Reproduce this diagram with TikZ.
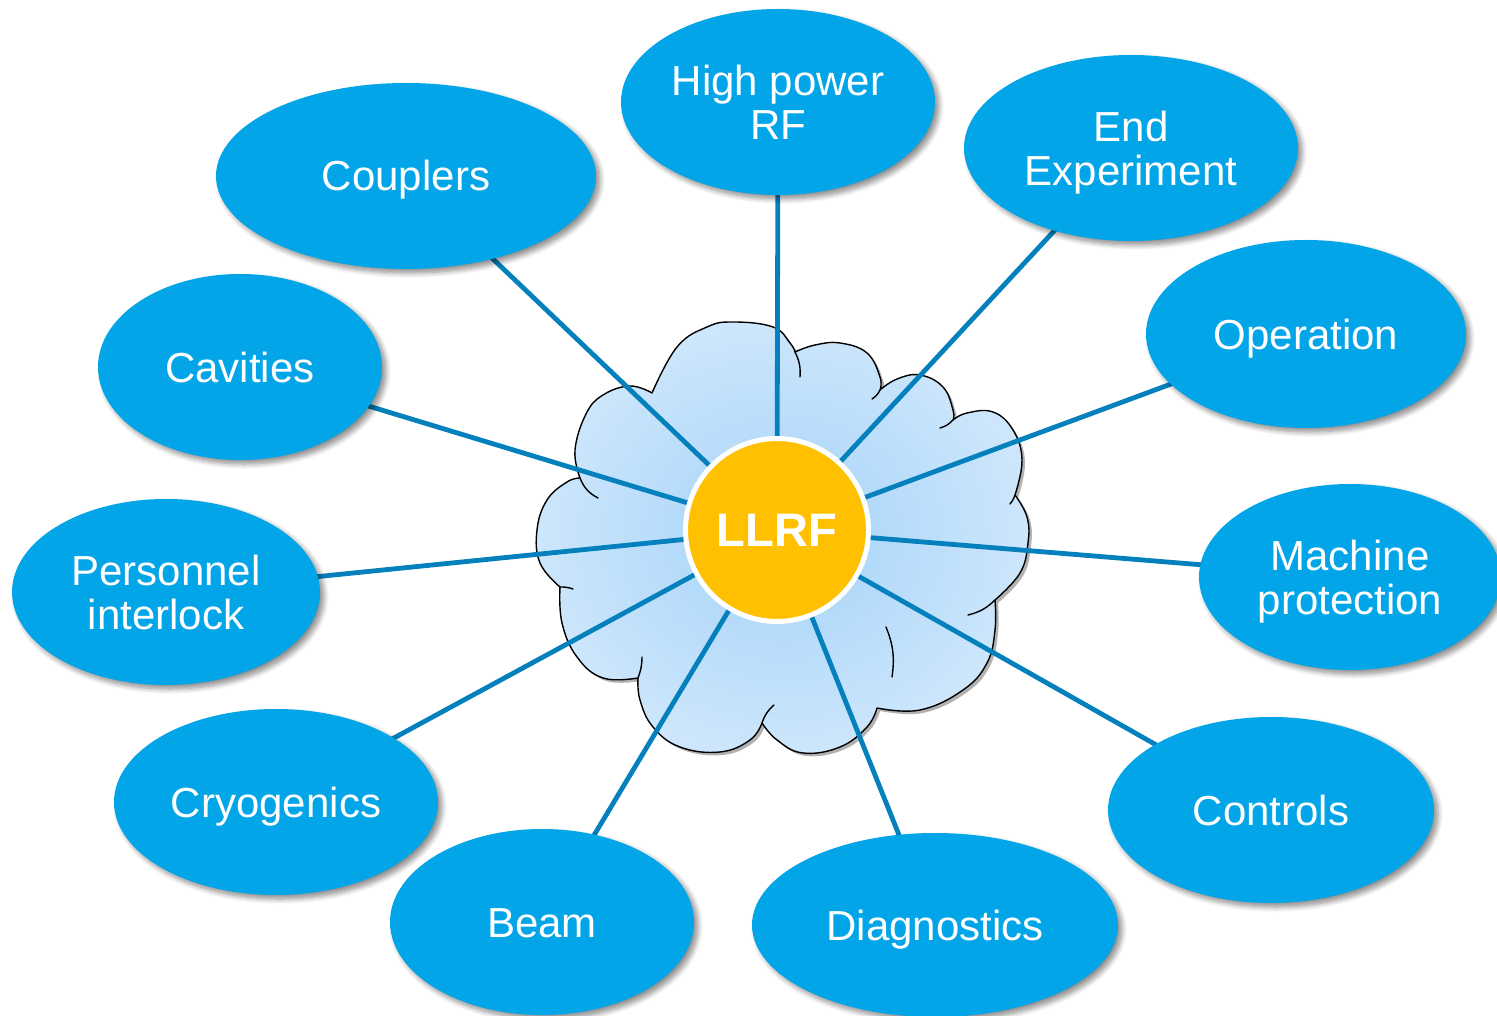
\documentclass[tikz,border=0pt]{standalone}
\usepackage{fontspec}
\setmainfont{Liberation Sans}
\usetikzlibrary{shapes.geometric,shadows,shadows.blur}

\definecolor{topic}{RGB}{3,165,233}
\definecolor{spoke}{RGB}{4,128,188}
\definecolor{hub}{RGB}{255,192,0}
\definecolor{cloudin}{RGB}{164,211,250}
\definecolor{cloudout}{RGB}{205,230,251}

\pgfdeclarelayer{bg}
\pgfdeclarelayer{spokes}
\pgfsetlayers{bg,spokes,main}

\tikzset{
  topicnode/.style={ellipse, fill=topic, text=white, inner sep=0pt, outer sep=0pt,
    align=center, font=\fontsize{42}{44}\selectfont, text depth=0pt,
    blur shadow={shadow xshift=4pt, shadow yshift=-4pt, shadow blur radius=5pt,
      shadow blur steps=8, shadow opacity=45}},
  oneline/.style={text height=30pt, text depth=0pt},
  spokeline/.style={draw=spoke, line width=4.8pt},
  cloudshape/.style={draw=black, line width=1.4pt, line join=round,
    inner color=cloudin, outer color=cloudout,
    drop shadow={shadow xshift=3pt, shadow yshift=-3pt, opacity=0.3, fill=black}},
  cloudfold/.style={draw=black, line width=1.4pt, line cap=round},
}

\begin{document}
\begin{tikzpicture}[x=1pt, y=-1pt]
\useasboundingbox (0,0) rectangle (1497,1016);

% central hub
\node[circle, fill=hub, draw=white, line width=5pt, minimum size=183pt,
  text=white, font=\fontsize{47}{50}\bfseries\selectfont] (llrf) at (777,530) {LLRF};

% surrounding topics
\node[topicnode, oneline, minimum width=380pt, minimum height=186pt] (coup) at (406,176) {Couplers};
\node[topicnode, minimum width=314pt, minimum height=186pt] (hprf) at (778,102) {High power\\RF};
\node[topicnode, minimum width=334pt, minimum height=186pt] (endx) at (1131,148) {End\\Experiment};
\node[topicnode, oneline, minimum width=320pt, minimum height=188pt] (oper) at (1306,334) {Operation};
\node[topicnode, minimum width=302pt, minimum height=186pt] (mach) at (1350,577) {Machine\\protection};
\node[topicnode, oneline, minimum width=326pt, minimum height=186pt] (ctrl) at (1271,810) {Controls};
\node[topicnode, oneline, minimum width=366pt, minimum height=184pt] (diag) at (935,925) {Diagnostics};
\node[topicnode, oneline, minimum width=304pt, minimum height=186pt] (beam) at (542,922) {Beam};
\node[topicnode, oneline, minimum width=324pt, minimum height=186pt] (cryo) at (276,802) {Cryogenics};
\node[topicnode, minimum width=308pt, minimum height=186pt] (pers) at (166,592) {Personnel\\interlock};
\node[topicnode, oneline, minimum width=284pt, minimum height=186pt] (cavi) at (240,367) {Cavities};

% spokes from the hub to every topic
\begin{pgfonlayer}{spokes}
  \foreach \t in {coup,hprf,endx,oper,mach,ctrl,diag,beam,cryo,pers,cavi}
    \path[spokeline] (llrf.center) -- (\t.center);
\end{pgfonlayer}

% cloud behind the hub
\begin{pgfonlayer}{bg}
  \path[cloudshape] (580,478)
    -- plot[smooth, tension=0.7] coordinates {(580,478) (575,450) (586,414) (603,395) (630,386) (652,393)}
    -- plot[smooth, tension=0.7] coordinates {(652,393) (677,347) (707,327) (733,322) (773,327) (790,343) (795,352)}
    -- plot[smooth, tension=0.7] coordinates {(795,352) (815,345) (840,343) (867,353) (880,377) (880,390)}
    -- plot[smooth, tension=0.7] coordinates {(880,390) (897,379) (920,375) (943,387) (953,410) (953,420)}
    -- plot[smooth, tension=0.7] coordinates {(953,420) (967,413) (993,412) (1013,430) (1022,460) (1015,495)}
    -- plot[smooth, tension=0.7] coordinates {(1015,495) (1027,517) (1028,543) (1020,573) (995,600)}
    -- plot[smooth, tension=0.7] coordinates {(995,600) (995,630) (987,663) (963,690) (920,710) (877,708)}
    -- plot[smooth, tension=0.7] coordinates {(877,708) (867,727) (840,747) (803,753) (777,740) (762,723)}
    -- plot[smooth, tension=0.7] coordinates {(762,723) (750,740) (720,752) (680,747) (653,727) (640,700) (638,678)}
    -- plot[smooth, tension=0.7] coordinates {(638,678) (603,678) (577,657) (562,623) (560,587)}
    -- plot[smooth, tension=0.7] coordinates {(560,587) (540,563) (537,530) (547,500) (567,482) (580,478)}
    -- cycle;
  % folds where the puffs overlap
  \draw[cloudfold] (580,478) to[bend right=20] (598,498);
  \draw[cloudfold] (795,352) to[bend left=15] (800,377);
  \draw[cloudfold] (880,390) to[bend left=15] (872,399);
  \draw[cloudfold] (953,420) to[bend left=15] (940,428);
  \draw[cloudfold] (1015,495) to[bend left=10] (1010,504);
  \draw[cloudfold] (995,600) to[bend left=15] (968,615);
  \draw[cloudfold] (886,627) to[bend left=15] (892,677);
  \draw[cloudfold] (762,723) to[bend left=15] (774,705);
  \draw[cloudfold] (638,678) to[bend right=10] (642,657);
  \draw[cloudfold] (560,587) to[bend left=10] (573,589);
\end{pgfonlayer}
\end{tikzpicture}
\end{document}
